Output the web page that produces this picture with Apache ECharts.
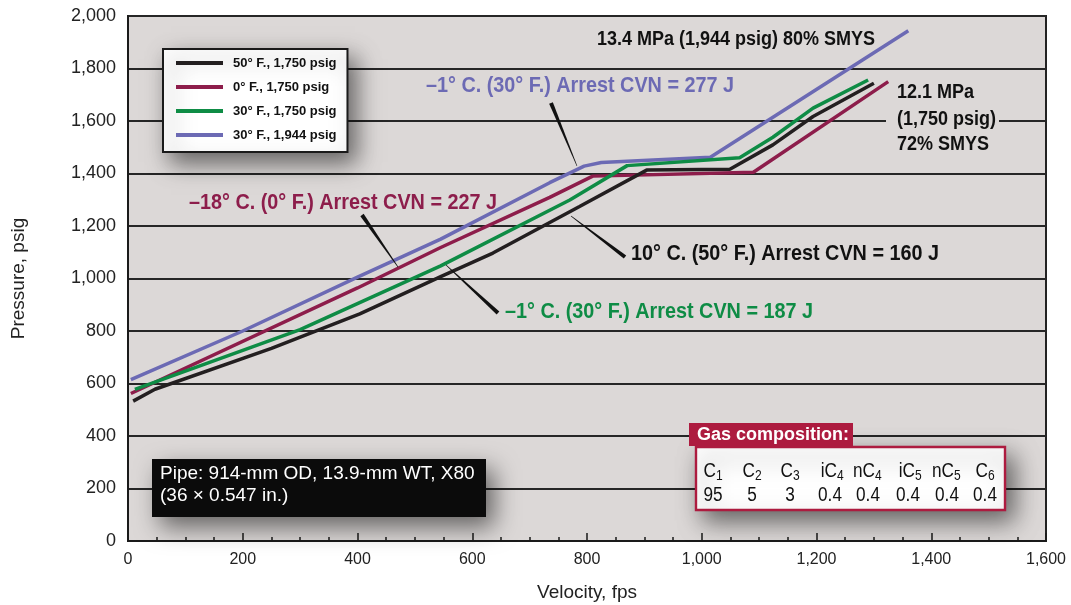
<!DOCTYPE html>
<html>
<head>
<meta charset="utf-8">
<script src="https://cdn.jsdelivr.net/npm/echarts@6/dist/echarts.min.js"></script>
<style>
html, body { margin: 0; padding: 0; background: #fff; }
#main { width: 1071px; height: 605px; }
</style>
</head>
<body>
<div id="main"></div>
<script>
/**
 * 数据: [velocity fps, pressure psig]
 */
var seriesNames  = ['50° F., 1,750 psig', '0° F., 1,750 psig', '30° F., 1,750 psig', '30° F., 1,944 psig'];
var seriesColors = ['#231f20', '#8d1d4b', '#0e8c45', '#6c6ab4'];

var black50F = [[9, 533], [47, 578], [250, 734], [404, 865], [545, 1007], [636, 1097], [787, 1274],
                [904, 1413], [1049, 1416], [1124, 1509], [1194, 1617], [1300, 1744]];
var maroon0F = [[5, 562], [400, 964], [545, 1118], [735, 1309], [810, 1390], [1090, 1405], [1325, 1750]];
var green30F = [[12, 578], [300, 805], [545, 1048], [770, 1299], [870, 1430], [1066, 1460],
                [1124, 1538], [1194, 1649], [1290, 1756]];
var purple30F = [[5, 615], [200, 800], [400, 1005], [545, 1150], [735, 1365], [795, 1428],
                 [825, 1442], [1015, 1462], [1360, 1944]];

// 气体成分表
var gasLabels = [['C', '1'], ['C', '2'], ['C', '3'], ['iC', '4'], ['nC', '4'], ['iC', '5'], ['nC', '5'], ['C', '6']];
var gasValues = ['95', '5', '3', '0.4', '0.4', '0.4', '0.4', '0.4'];

var BG = '#dcd8d7';
var FONT = '"Liberation Sans", Arial, sans-serif';

/**
 * 楔形指示线
 */
function wedge(x1, y1, x2, y2, w1, w2, color) {
	var dx = x2 - x1, dy = y2 - y1;
	var len = Math.sqrt(dx * dx + dy * dy);
	var nx = -dy / len, ny = dx / len;
	return {
		type: 'polygon', z: 100,
		shape: { points: [
			[x1 + nx * w1 / 2, y1 + ny * w1 / 2],
			[x2 + nx * w2 / 2, y2 + ny * w2 / 2],
			[x2 - nx * w2 / 2, y2 - ny * w2 / 2],
			[x1 - nx * w1 / 2, y1 - ny * w1 / 2]
		] },
		style: { fill: color || '#111' }
	};
}

function label(text, x, y, color, size, sx) {
	return {
		type: 'text', z: 100, x: x, y: y, scaleX: sx || 1,
		style: {
			text: text, fill: color,
			font: 'bold ' + size + 'px ' + FONT,
			textAlign: 'left', textVerticalAlign: 'middle'
		}
	};
}

// 成分表格
var gasCols = [713, 752, 790, 830, 868, 908, 947, 985];
var gasTexts = [];
for (var i = 0; i < gasLabels.length; i++) {
	var cx = gasCols[i];
	var off = gasLabels[i][0].length === 1 ? 3 : 7;
	gasTexts.push({
		type: 'text', z: 102, x: cx + off, y: 471, scaleX: 0.86,
		style: { text: gasLabels[i][0], fill: '#111', font: '20px ' + FONT, textAlign: 'right', textVerticalAlign: 'middle' }
	});
	gasTexts.push({
		type: 'text', z: 102, x: cx + off, y: 476, scaleX: 0.86,
		style: { text: gasLabels[i][1], fill: '#111', font: '14px ' + FONT, textAlign: 'left', textVerticalAlign: 'middle' }
	});
	gasTexts.push({
		type: 'text', z: 102, x: cx, y: 495, scaleX: 0.86,
		style: { text: gasValues[i], fill: '#111', font: '20px ' + FONT, textAlign: 'center', textVerticalAlign: 'middle' }
	});
}

var shadow = { shadowBlur: 24, shadowColor: 'rgba(0,0,0,0.55)', shadowOffsetX: 8, shadowOffsetY: 10 };

var graphics = [
	// 断开 1600 网格线
	{ type: 'rect', z: 1, shape: { x: 886, y: 118, width: 113, height: 6 }, style: { fill: BG } },

	// 管道信息框
	{ type: 'rect', z: 100, shape: { x: 152, y: 459, width: 334, height: 58 },
	  style: Object.assign({ fill: '#0b0b0b' }, shadow) },
	{ type: 'text', z: 101, x: 160, y: 474,
	  style: { text: 'Pipe: 914-mm OD, 13.9-mm WT, X80', fill: '#fff', font: '19px ' + FONT, textAlign: 'left', textVerticalAlign: 'middle' } },
	{ type: 'text', z: 101, x: 160, y: 496,
	  style: { text: '(36 × 0.547 in.)', fill: '#fff', font: '19px ' + FONT, textAlign: 'left', textVerticalAlign: 'middle' } },

	// 气体成分框
	{ type: 'rect', z: 100, shape: { x: 696, y: 447, width: 309, height: 63 },
	  style: Object.assign({ fill: '#fff', stroke: '#ad1b3f', lineWidth: 2.4 }, shadow) },
	{ type: 'rect', z: 101, shape: { x: 689, y: 423, width: 164, height: 23 },
	  style: { fill: '#ad1b3f' } },
	{ type: 'text', z: 102, x: 697, y: 435,
	  style: { text: 'Gas composition:', fill: '#fff', font: 'bold 18px ' + FONT, textAlign: 'left', textVerticalAlign: 'middle' } },

	// 注释
	label('13.4 MPa (1,944 psig) 80% SMYS', 597, 39, '#111', 20, 0.9),
	label('12.1 MPa', 897, 92, '#111', 20, 0.9),
	label('(1,750 psig)', 897, 119, '#111', 20, 0.9),
	label('72% SMYS', 897, 144, '#111', 20, 0.9),
	label('\u20131° C. (30° F.) Arrest CVN = 277 J', 426, 86, seriesColors[3], 22, 0.9),
	label('\u201318° C. (0° F.) Arrest CVN = 227 J', 189, 203, seriesColors[1], 22, 0.9),
	label('10° C. (50° F.) Arrest CVN = 160 J', 631, 254, '#111', 22, 0.9),
	label('\u20131° C. (30° F.) Arrest CVN = 187 J', 505, 312, seriesColors[2], 22, 0.9),

	wedge(551, 103, 577, 166, 4, 0.6),
	wedge(362, 215, 398, 267, 4, 0.6),
	wedge(571, 216, 625, 257, 0.6, 4),
	wedge(446, 265, 498, 313, 0.6, 4)
].concat(gasTexts);

var seriesData = [black50F, maroon0F, green30F, purple30F];
var series = [];
// 绘制顺序: 紫, 红, 绿, 黑
[3, 1, 2, 0].forEach(function (k) {
	series.push({
		name: seriesNames[k], type: 'line', data: seriesData[k],
		symbol: 'none', smooth: false, z: 2,
		lineStyle: { width: 3.5, color: seriesColors[k] },
		itemStyle: { color: seriesColors[k] }
	});
});

var myChart = echarts.init(document.getElementById('main'));
myChart.setOption({
	animation: false,
	grid: {
		left: 128, right: 25, top: 16, bottom: 64, outerBoundsMode: 'none', containLabel: false,
		show: true, backgroundColor: BG, borderColor: '#222', borderWidth: 2
	},
	legend: {
		data: seriesNames, orient: 'vertical', left: 163, top: 49,
		backgroundColor: '#fff', borderColor: '#1a1a1a', borderWidth: 2,
		padding: [6, 11, 9, 13], itemGap: 8, itemWidth: 47, itemHeight: 4, icon: 'rect',
		shadowBlur: 22, shadowColor: 'rgba(0,0,0,0.55)', shadowOffsetX: 8, shadowOffsetY: 10,
		selectedMode: false,
		textStyle: { fontSize: 13, fontWeight: 'bold', fontFamily: FONT, color: '#111', lineHeight: 16, padding: [0, 0, 0, 5] }
	},
	xAxis: {
		type: 'value', min: 0, max: 1600, interval: 200,
		name: 'Velocity, fps', nameLocation: 'middle', nameGap: 42,
		nameTextStyle: { fontSize: 19, fontFamily: FONT, color: '#222' },
		axisLine: { lineStyle: { color: '#1a1a1a', width: 2 } },
		axisTick: { inside: true, length: 8, lineStyle: { color: '#1a1a1a', width: 1.5 } },
		minorTick: { show: true, splitNumber: 4, length: 4, lineStyle: { color: '#1a1a1a', width: 1.5 } },
		axisLabel: { fontSize: 16, fontFamily: FONT, color: '#222', margin: 11 },
		splitLine: { show: false }
	},
	yAxis: {
		type: 'value', min: 0, max: 2000, interval: 200,
		name: 'Pressure, psig', nameLocation: 'middle', nameGap: 100,
		nameTextStyle: { fontSize: 19, fontFamily: FONT, color: '#222' },
		axisLine: { show: true, lineStyle: { color: '#1a1a1a', width: 2 } },
		axisTick: { show: false },
		axisLabel: { fontSize: 18, fontFamily: FONT, color: '#222', margin: 12, padding: [7, 0, 0, 0] },
		splitLine: { lineStyle: { color: '#262626', width: 2 } }
	},
	graphic: graphics,
	series: series
});
</script>
</body>
</html>
